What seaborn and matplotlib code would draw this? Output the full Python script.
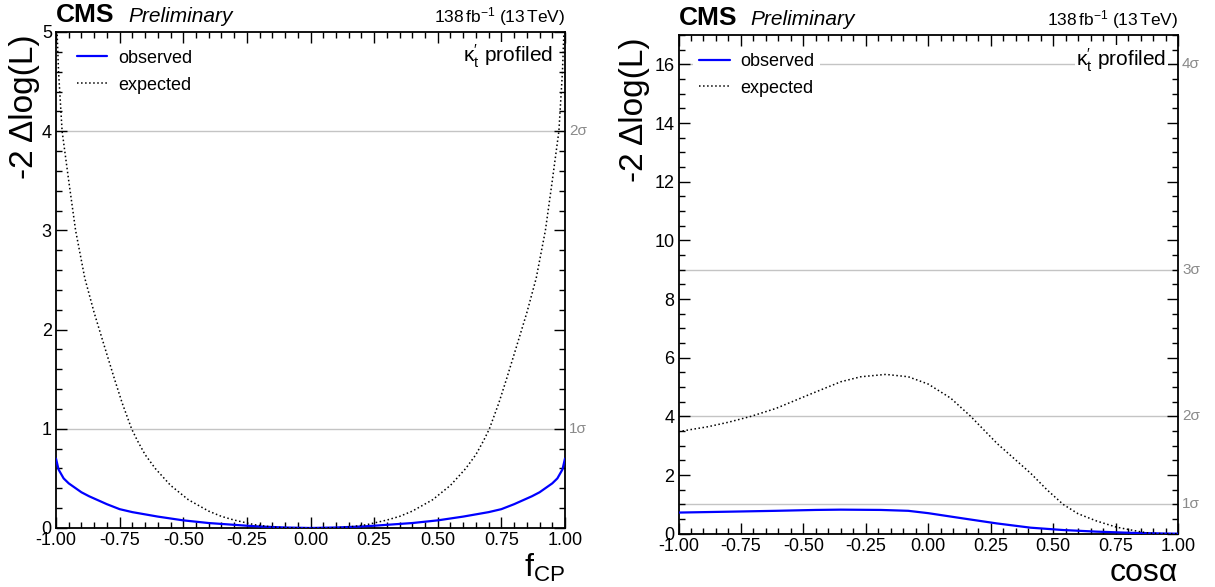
import numpy as np
import pandas as pd
import matplotlib
matplotlib.use('Agg')
import matplotlib.pyplot as plt
from matplotlib.ticker import MultipleLocator, FormatStrFormatter
import seaborn as sns

# f_CP scan (left panel)
fcp_obs_x = [-1.0, -0.99, -0.97, -0.95, -0.9, -0.87, -0.8, -0.75, -0.7, -0.6, -0.5, -0.4, -0.3, -0.25, -0.2, -0.1, 0.0,
             0.1, 0.2, 0.25, 0.3, 0.4, 0.5, 0.6, 0.7, 0.75, 0.8, 0.87, 0.9, 0.95, 0.97, 0.99, 1.0]
fcp_obs_y = [0.70, 0.59, 0.50, 0.45, 0.36, 0.32, 0.24, 0.19, 0.16, 0.115, 0.077, 0.05, 0.032, 0.023, 0.015, 0.005, 0.0,
             0.005, 0.015, 0.023, 0.032, 0.05, 0.077, 0.115, 0.16, 0.19, 0.24, 0.32, 0.36, 0.45, 0.50, 0.59, 0.70]
fcp_exp_x = [-1.0, -0.99, -0.976, -0.95, -0.923, -0.887, -0.85, -0.806, -0.77, -0.74, -0.703, -0.68, -0.65, -0.61,
             -0.55, -0.48, -0.40, -0.35, -0.30, -0.22, -0.15, -0.10, 0.0,
             0.10, 0.15, 0.22, 0.30, 0.35, 0.40, 0.48, 0.55,
             0.61, 0.65, 0.68, 0.703, 0.74, 0.77, 0.806, 0.85, 0.887, 0.923, 0.95, 0.976, 0.99, 1.0]
fcp_exp_y = [5.3, 4.6, 4.0, 3.5, 3.0, 2.52, 2.17, 1.80, 1.50, 1.26, 1.0, 0.88, 0.74, 0.60,
             0.43, 0.285, 0.17, 0.117, 0.08, 0.033, 0.01, 0.003, 0.0,
             0.003, 0.01, 0.033, 0.08, 0.117, 0.17, 0.285, 0.43,
             0.60, 0.74, 0.88, 1.0, 1.26, 1.50, 1.80, 2.17, 2.52, 3.0, 3.5, 4.0, 4.6, 5.3]

# cos(alpha) scan (right panel)
cos_obs_x = [-1.0, -0.8, -0.61, -0.45, -0.35, -0.19, -0.08, 0.0, 0.07, 0.14, 0.275, 0.41, 0.54, 0.675, 0.81, 0.95, 1.0]
cos_obs_y = [0.72, 0.75, 0.78, 0.81, 0.82, 0.81, 0.78, 0.70, 0.61, 0.52, 0.35, 0.205, 0.125, 0.07, 0.03, 0.005, 0.0]
cos_exp_x = [-1.0, -0.88, -0.8, -0.71, -0.61, -0.48, -0.35, -0.27, -0.17, -0.08, 0.0, 0.09, 0.17, 0.275, 0.41,
             0.475, 0.54, 0.60, 0.675, 0.755, 0.85, 0.89, 0.95, 1.0]
cos_exp_y = [3.48, 3.65, 3.8, 4.0, 4.27, 4.73, 5.18, 5.35, 5.43, 5.35, 5.1, 4.62, 4.0, 3.08, 2.06,
             1.50, 1.0, 0.68, 0.43, 0.22, 0.065, 0.015, 0.0, 0.0]

sigma_left = [1, 4]
sigma_right = [1, 4, 9, 16]
sigma_names = {1: '1σ', 4: '2σ', 9: '3σ', 16: '4σ'}

sns.set_style('ticks')
plt.rcParams['font.family'] = ['Liberation Sans', 'DejaVu Sans']
plt.rcParams['mathtext.fontset'] = 'custom'
plt.rcParams['mathtext.rm'] = 'Liberation Sans'
plt.rcParams['mathtext.it'] = 'Liberation Sans:italic'
plt.rcParams['axes.unicode_minus'] = False
for key in ['text.color', 'axes.labelcolor', 'xtick.color', 'ytick.color', 'axes.edgecolor']:
    plt.rcParams[key] = 'black'

fig = plt.figure(figsize=(12.15, 5.87), dpi=100)
ax1 = fig.add_axes([56 / 1215, 59 / 587, 509 / 1215, 496 / 587])
ax2 = fig.add_axes([678.5 / 1215, 53.3 / 587, 499.5 / 1215, 498.7 / 587])


def style_axis(ax, ymax, ymaj, ymin, sigmas, xlabel, ylab_x):
    ax.set_xlim(-1, 1)
    ax.set_ylim(0, ymax)
    ax.xaxis.set_major_locator(MultipleLocator(0.25))
    ax.xaxis.set_minor_locator(MultipleLocator(0.05))
    ax.xaxis.set_major_formatter(FormatStrFormatter('%.2f'))
    ax.yaxis.set_major_locator(MultipleLocator(ymaj))
    ax.yaxis.set_minor_locator(MultipleLocator(ymin))
    ax.tick_params(which='both', direction='in', top=True, right=True, labelsize=13, width=1, pad=3)
    ax.tick_params(which='major', length=8)
    ax.tick_params(which='minor', length=4)
    for s in ax.spines.values():
        s.set_linewidth(1.3)
    for v in sigmas:
        ax.axhline(v, color='#c4c4c4', lw=1, zorder=0)
        ax.text(1.008, v, sigma_names[v], transform=ax.get_yaxis_transform(), color='#8a8a8a',
                fontsize=11, va='center', ha='left')
    ax.set_xlabel(xlabel, fontsize=23, loc='right', labelpad=2)
    ax.set_ylabel('-2 Δlog(L)', fontsize=24, loc='top')
    ax.yaxis.set_label_coords(ylab_x, 0.995)
    ax.grid(False)


for ax, ox, oy, ex, ey in [(ax1, fcp_obs_x, fcp_obs_y, fcp_exp_x, fcp_exp_y),
                           (ax2, cos_obs_x, cos_obs_y, cos_exp_x, cos_exp_y)]:
    sns.lineplot(x=ox, y=oy, ax=ax, color='#0000ff', lw=1.6, label='observed', zorder=3)
    sns.lineplot(x=ex, y=ey, ax=ax, color='black', lw=1.1, linestyle=':', label='expected', zorder=3)

style_axis(ax1, 5, 1, 0.2, sigma_left, r'$\mathregular{f_{CP}}$', -0.032)
style_axis(ax2, 17, 2, 0.5, sigma_right, 'cosα', -0.058)

for ax, w in [(ax1, 509), (ax2, 499.5)]:
    leg = ax.legend(loc='upper left', bbox_to_anchor=(0.03, 0.975), fontsize=13, frameon=True,
                    handlelength=1.7, handletextpad=0.6, labelspacing=0.55, borderpad=0.3, borderaxespad=0)
    leg.get_frame().set_facecolor('white')
    leg.get_frame().set_edgecolor('none')
    leg.get_frame().set_alpha(1)
    ax.text(0.977, 0.95, r"κ$^{\prime}_{\mathregular{t}}$ profiled", transform=ax.transAxes,
            ha='right', va='center', fontsize=15,
            bbox=dict(facecolor='white', edgecolor='none', pad=1))
    ax.text(0, 1.02, 'CMS', transform=ax.transAxes, fontsize=19, fontweight='bold',
            ha='left', va='baseline')
    ax.text(72 / w, 1.02, 'Preliminary', transform=ax.transAxes, fontsize=15, style='italic',
            ha='left', va='baseline')
    ax.text(1, 1.02, r'138$\,$fb$^{\mathregular{-1}}$ (13$\,$TeV)', transform=ax.transAxes, fontsize=12.5,
            ha='right', va='baseline')

fig.savefig('out.png', dpi=100)
